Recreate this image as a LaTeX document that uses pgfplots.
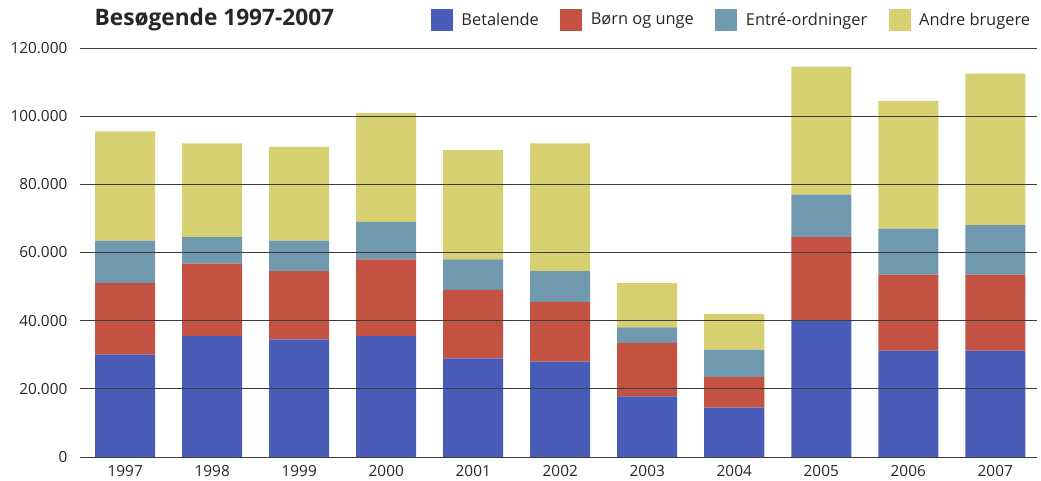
\documentclass[border=0pt]{standalone}
\usepackage{pgfplots}
\pgfplotsset{compat=1.18}
\usepackage{fontspec}
\setmainfont{Open Sans}

\definecolor{cblue}{RGB}{72,92,184}
\definecolor{cred}{RGB}{196,82,66}
\definecolor{cteal}{RGB}{112,152,174}
\definecolor{cyellow}{RGB}{214,208,112}
\definecolor{cgrid}{RGB}{60,60,60}

\begin{document}
\begin{tikzpicture}[x=0.75pt,y=0.75pt]
\useasboundingbox (-80,-24) rectangle (961,457);
\begin{axis}[
  at={(0,0)}, anchor=south west,
  scale only axis,
  width=717.75pt, height=306.75pt,
  ybar stacked,
  bar width=45pt,
  xmin=-0.52, xmax=10.48,
  ymin=0, ymax=120000,
  scaled y ticks=false,
  xtick={0,...,10},
  xticklabels={1997,1998,1999,2000,2001,2002,2003,2004,2005,2006,2007},
  ytick={0,20000,40000,60000,80000,100000,120000},
  yticklabels={0,20.000,40.000,60.000,80.000,100.000,120.000},
  major tick length=0pt,
  axis line style={draw=none},
  ymajorgrids,
  grid style={cgrid, line width=0.7pt},
  axis on top,
  tick label style={font=\fontsize{11.5}{14}\selectfont, text=black!85},
  yticklabel style={xshift=-6pt},
  xticklabel style={yshift=-3pt},
  legend columns=4,
  legend style={draw=none, fill=none, at={(1,1)}, anchor=east, yshift=21pt,
    font=\fontsize{12.3}{14}\selectfont, text=black!85,
    /tikz/every odd column/.append style={column sep=4.5pt},
    /tikz/every even column/.append style={column sep=14pt}},
  legend image code/.code={\fill[#1] (0pt,-8.5pt) rectangle (16.5pt,8.5pt);},
]
\addplot[fill=cblue, draw=none] coordinates {
(0,30000) (1,35500) (2,34500) (3,35500) (4,28900) (5,28000)
(6,17800) (7,14500) (8,40000) (9,31200) (10,31200)};
\addlegendentry{Betalende}
\addplot[fill=cred, draw=none] coordinates {
(0,21000) (1,21200) (2,20000) (3,22500) (4,20100) (5,17500)
(6,15700) (7,9000) (8,24500) (9,22300) (10,22300)};
\addlegendentry{Børn og unge}
\addplot[fill=cteal, draw=none] coordinates {
(0,12500) (1,7800) (2,9000) (3,11000) (4,9000) (5,9000)
(6,4500) (7,8000) (8,12500) (9,13500) (10,14500)};
\addlegendentry{Entré-ordninger}
\addplot[fill=cyellow, draw=none] coordinates {
(0,32000) (1,27500) (2,27500) (3,32000) (4,32000) (5,37500)
(6,13000) (7,10500) (8,37500) (9,37500) (10,44500)};
\addlegendentry{Andre brugere}
\end{axis}
\node[anchor=west, font=\bfseries\fontsize{17}{19}\selectfont, text=black!85] at (10,437) {Besøgende 1997-2007};
\end{tikzpicture}
\end{document}
